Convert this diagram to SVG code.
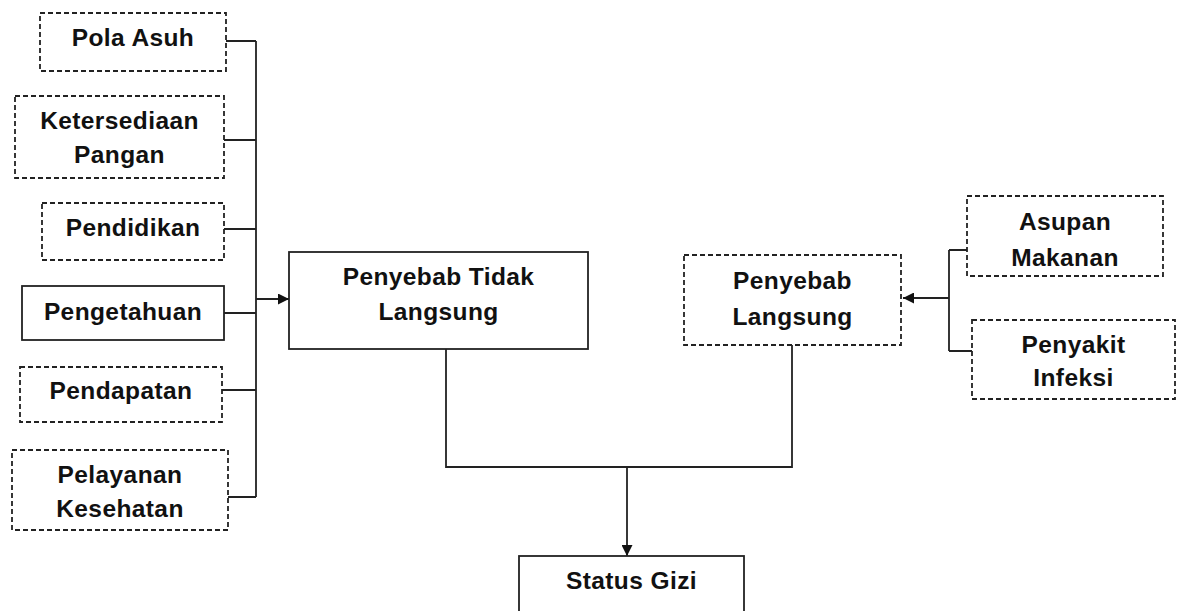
<svg xmlns="http://www.w3.org/2000/svg" width="1189" height="611" viewBox="0 0 1189 611">
<defs>
<style>
.box{fill:#fff;stroke:#222;stroke-width:1.8}
.dash{stroke-dasharray:5 3}
.t{font-family:"Liberation Sans",Arial,sans-serif;font-weight:bold;font-size:24.5px;letter-spacing:0.4px;fill:#111;text-anchor:middle}
.c{fill:none;stroke:#222;stroke-width:1.8}
</style>
<marker id="ah" viewBox="0 0 10 10" refX="10" refY="5" markerWidth="11" markerHeight="11" markerUnits="userSpaceOnUse" orient="auto">
<path d="M0,0 L10,5 L0,10 Z" fill="#111"/>
</marker>
</defs>
<rect width="1189" height="611" fill="#fff"/>
<g id="connectors">
<path class="c" d="M226,41 H256 M224,140 H256 M224,229 H256 M224,313 H256 M222,390 H256 M228,497 H256 M256,41 V497"/>
<path class="c" d="M256,299 H289" marker-end="url(#ah)"/>
<path class="c" d="M967,250 H949 M972,351 H949 M949,250 V351"/>
<path class="c" d="M949,298 H903" marker-end="url(#ah)"/>
<path class="c" d="M446,349 V467 H792 V345"/>
<path class="c" d="M627,467 V556" marker-end="url(#ah)"/>
</g>
<g id="pola-asuh"><rect class="box dash" x="40" y="13" width="186" height="58"/><text class="t" x="133" y="46">Pola Asuh</text></g>
<g id="ketersediaan-pangan"><rect class="box dash" x="15" y="96" width="209" height="82"/><text class="t" x="119.5" y="129">Ketersediaan</text><text class="t" x="119.5" y="163">Pangan</text></g>
<g id="pendidikan"><rect class="box dash" x="42" y="203" width="182" height="57"/><text class="t" x="133" y="236">Pendidikan</text></g>
<g id="pengetahuan"><rect class="box" x="22" y="286" width="202" height="54"/><text class="t" x="123" y="320">Pengetahuan</text></g>
<g id="pendapatan"><rect class="box dash" x="20" y="367" width="202" height="55"/><text class="t" x="121" y="399">Pendapatan</text></g>
<g id="pelayanan-kesehatan"><rect class="box dash" x="12" y="450" width="216" height="80"/><text class="t" x="120" y="483">Pelayanan</text><text class="t" x="120" y="517">Kesehatan</text></g>
<g id="penyebab-tidak-langsung"><rect class="box" x="289" y="252" width="299" height="97"/><text class="t" x="438.5" y="285">Penyebab Tidak</text><text class="t" x="438.5" y="320">Langsung</text></g>
<g id="penyebab-langsung"><rect class="box dash" x="684" y="255" width="217" height="90"/><text class="t" x="792.5" y="289">Penyebab</text><text class="t" x="792.5" y="325">Langsung</text></g>
<g id="asupan-makanan"><rect class="box dash" x="967" y="196" width="196" height="80"/><text class="t" x="1065" y="230">Asupan</text><text class="t" x="1065" y="266">Makanan</text></g>
<g id="penyakit-infeksi"><rect class="box dash" x="972" y="320" width="203" height="79"/><text class="t" x="1073.5" y="353">Penyakit</text><text class="t" x="1073.5" y="386">Infeksi</text></g>
<g id="status-gizi"><rect class="box" x="519" y="556" width="225" height="70"/><text class="t" x="631.5" y="589">Status Gizi</text></g>
</svg>
